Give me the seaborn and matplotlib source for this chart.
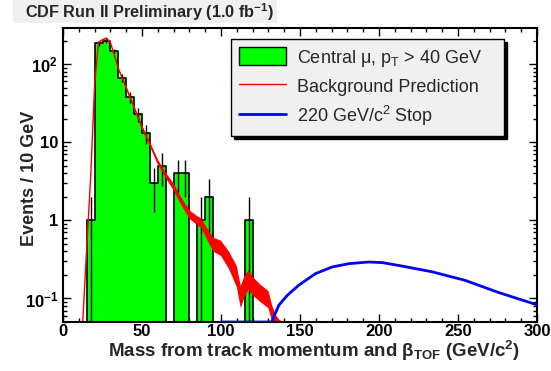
import numpy as np
import pandas as pd
import matplotlib
matplotlib.use("Agg")
import matplotlib.pyplot as plt
from matplotlib.patches import Patch, Rectangle
from matplotlib.lines import Line2D
from matplotlib.ticker import MultipleLocator, LogLocator, FixedLocator, FixedFormatter, NullFormatter
import seaborn as sns

# histogram of data (5 GeV bins)
bin_edges = [15, 20, 25, 30, 35, 40, 45, 50, 55, 60, 65, 70, 75, 80, 85, 90, 95, 100, 105, 110, 115, 120]
counts = [1, 186, 199, 146, 67, 38, 23, 13, 3, 5, 0, 4, 4, 0, 1, 2, 0, 0, 0, 0, 1]

# background prediction (centre and uncertainty)
bkg_mass = [12.5, 15, 17.5, 20, 22.5, 25, 27.5, 30, 32.5, 35, 40, 45, 50, 55, 60, 65, 70, 75, 80, 85,
            87.5, 90, 95, 100, 105, 110, 112.5, 115, 117.5, 120, 125, 130, 132.5, 135, 140, 145, 300]
bkg_value = [0.05, 0.45, 3.5, 55, 190, 205, 215, 190, 130, 88, 50, 28, 15.5, 9.5, 5.6, 3.8, 2.7, 1.75, 1.2, 1.0,
             0.93, 0.75, 0.5, 0.45, 0.32, 0.2, 0.11, 0.15, 0.18, 0.15, 0.12, 0.1, 0.065, 0.052, 0.04, 0, 0]
bkg_err = [0.003, 0.02, 0.1, 1.5, 4, 4, 4, 4, 3, 2.5, 2, 1.5, 0.9, 0.6, 0.4, 0.3, 0.28, 0.2, 0.15, 0.13,
           0.13, 0.12, 0.1, 0.1, 0.08, 0.06, 0.035, 0.045, 0.05, 0.04, 0.03, 0.025, 0.015, 0.008, 0.005, 0, 0]

# 220 GeV/c2 stop signal
stop_mass = [100, 130, 132, 136.6, 142, 149.2, 159.8, 170.3, 180.9, 193.5, 202, 212.4, 233.4, 254.4, 275.3, 300]
stop_value = [0, 0, 0.05, 0.082, 0.11, 0.148, 0.208, 0.253, 0.279, 0.293, 0.288, 0.265, 0.22, 0.171, 0.12, 0.083]

ytick_values = [0.1, 1, 10, 100]
ytick_labels = ["$\\mathbf{10^{-1}}$", "1", "10", "$\\mathbf{10^{2}}$"]
legend_labels = ["Central \u03bc, p$_\\mathrm{T}$ > 40 GeV", "Background Prediction", "220 GeV/c$^\\mathrm{2}$ Stop"]

ymin, ymax = 0.05, 290

sns.set_theme(style="ticks")
plt.rcParams["font.family"] = ["Liberation Sans", "DejaVu Sans"]
plt.rcParams["font.weight"] = "bold"
plt.rcParams["axes.labelweight"] = "bold"
plt.rcParams["mathtext.fontset"] = "custom"
plt.rcParams["mathtext.rm"] = "Liberation Sans:weight=normal"
plt.rcParams["mathtext.bf"] = "Liberation Sans:weight=bold"
plt.rcParams["mathtext.it"] = "Liberation Sans:style=italic:weight=normal"

fig = plt.figure(figsize=(5.51, 3.71), dpi=100)
fig.patch.set_facecolor("white")
ax = fig.add_axes([63 / 551, 1 - 322 / 371, 474 / 551, 294 / 371])

edges = np.array(bin_edges, dtype=float)
centers = (edges[:-1] + edges[1:]) / 2
counts_arr = np.array(counts, dtype=float)
hist_df = pd.DataFrame({"mass": centers, "n": counts_arr})

sns.histplot(data=hist_df, x="mass", weights="n", bins=bin_edges, element="step", fill=True,
             color="#00ff00", alpha=1, edgecolor="black", linewidth=1.2, ax=ax)

# statistical error bars
nz = counts_arr > 0
err = np.sqrt(counts_arr[nz])
ax.vlines(centers[nz], np.clip(counts_arr[nz] - err, 1e-3, None), counts_arr[nz] + err,
          color="black", lw=1, zorder=2.2)

# background band
bv = np.array(bkg_value)
be = np.array(bkg_err)
ax.fill_between(bkg_mass, np.clip(bv - be, 1e-3, None), np.clip(bv + be, 1e-3, None),
                color="red", lw=0, zorder=2.3)
sns.lineplot(x=bkg_mass, y=np.clip(bv, ymin, None), color="red", lw=1, ax=ax, zorder=2.3)

# signal
sns.lineplot(x=stop_mass, y=np.clip(stop_value, ymin, None), color="blue", lw=2, ax=ax, zorder=3)

ax.set_yscale("log")
ax.set_xlim(0, 300)
ax.set_ylim(ymin, ymax)

ax.xaxis.set_major_locator(MultipleLocator(50))
ax.xaxis.set_minor_locator(MultipleLocator(10))
ax.yaxis.set_major_locator(FixedLocator(ytick_values))
ax.yaxis.set_major_formatter(FixedFormatter(ytick_labels))
ax.yaxis.set_minor_locator(LogLocator(base=10, subs=np.arange(2, 10)))
ax.yaxis.set_minor_formatter(NullFormatter())
ax.tick_params(which="both", direction="in", top=True, right=True, colors="black", labelsize=12)
ax.tick_params(which="major", length=6, width=1)
ax.tick_params(which="minor", length=3, width=1)
ax.tick_params(axis="x", pad=1.5)
for sp in ax.spines.values():
    sp.set_visible(True)
    sp.set_color("black")
    sp.set_linewidth(1.5)

ax.set_xlabel("Mass from track momentum and \u03b2$_\\mathbf{TOF}$ (GeV/c$^\\mathbf{2}$)", fontsize=13.5)
ax.set_ylabel("Events / 10 GeV", fontsize=13)
ax.xaxis.set_label_coords(0.53, -0.058)
ax.yaxis.set_label_coords(-0.053, 0.49)

handles = [Patch(facecolor="#00ff00", edgecolor="black", lw=1),
           Line2D([], [], color="red", lw=1),
           Line2D([], [], color="blue", lw=2)]
leg = ax.legend(handles, legend_labels, loc="upper left", bbox_to_anchor=(0.354, 0.6565, 0.576, 0.305),
                mode="expand", borderaxespad=0, prop={"weight": "normal", "size": 13},
                handlelength=2.6, handleheight=1.15, handletextpad=0.6, borderpad=0.45, labelspacing=0.45,
                fancybox=False, framealpha=1, facecolor="#f0f0f0", edgecolor="black",
                shadow={"color": "black", "alpha": 1})
leg.get_frame().set_linewidth(1)

# title box
fig.patches.append(Rectangle((13 / 551, 1 - 23 / 371), 264 / 551, 23 / 371, transform=fig.transFigure,
                             facecolor="#f0f0f0", edgecolor="none"))
fig.text(25 / 551, 1 - 12 / 371, "CDF Run II Preliminary (1.0 fb$^{\\mathbf{-1}}$)",
         ha="left", va="center", fontsize=11.7, weight="bold")

fig.savefig("out.png", dpi=100)
